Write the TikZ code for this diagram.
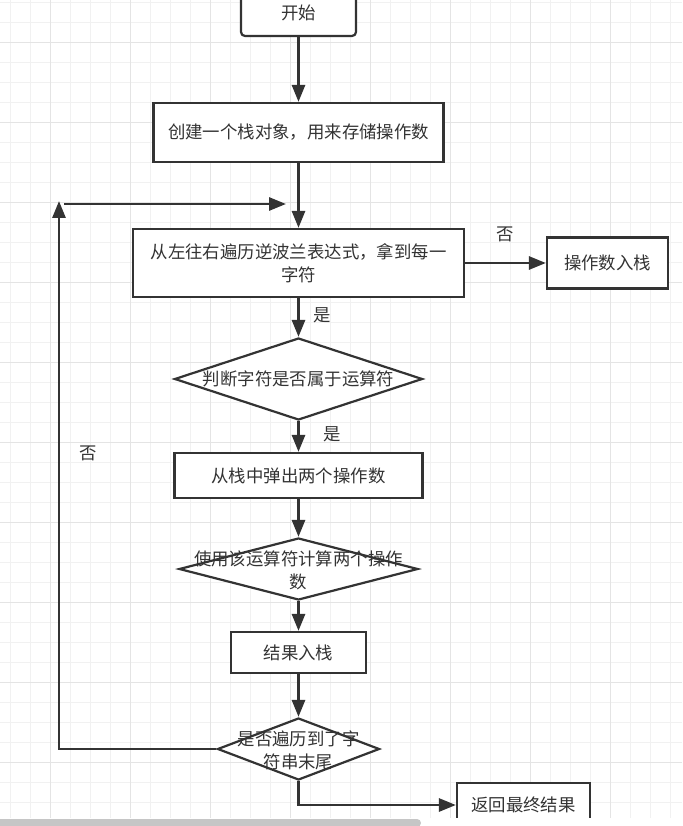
\documentclass[tikz,border=0pt]{standalone}
\usepackage{fontspec}
\setmainfont{Noto Sans CJK SC}
\usepackage{tikz}
\usetikzlibrary{arrows.meta, positioning, shapes.geometric}

\definecolor{inkgray}{HTML}{333333}
\definecolor{gridminor}{HTML}{F1F1F1}
\definecolor{gridmajor}{HTML}{E4E4E4}
\definecolor{scrollgray}{HTML}{C6C6C6}

\begin{document}
\begin{tikzpicture}[x=1pt,y=-1pt,node distance=100pt,on grid,>={Triangle[length=17pt,width=13pt]},
        every node/.style={font=\fontsize{17.4}{23}\selectfont,text=inkgray},
        flowbox/.style={draw=inkgray,line width=2.2pt,fill=white,align=center,inner sep=0pt},
        startbox/.style={flowbox,rounded corners=4pt},
        decision/.style={diamond,draw=inkgray,line width=2.2pt,fill=white,inner sep=0pt},
        flow/.style={draw=inkgray,line width=2.8pt},
        tag/.style={inner sep=0pt}]

        \useasboundingbox (0,0) rectangle (682,826);
        \fill[white] (0,0) rectangle (682,826);

        % canvas grid
        \foreach \k in {0,...,33}
            \draw[gridminor,line width=1pt] ({10.7+20*\k},0) -- ({10.7+20*\k},826);
        \foreach \k in {0,...,41}
            \draw[gridminor,line width=1pt] (0,{2.7+20*\k}) -- (682,{2.7+20*\k});
        \foreach \k in {0,...,7}
            \draw[gridmajor,line width=1pt] ({50.7+80*\k},0) -- ({50.7+80*\k},826);
        \foreach \k in {0,...,9}
            \draw[gridmajor,line width=1pt] (0,{42.7+80*\k}) -- (682,{42.7+80*\k});

        \node[startbox,minimum width=115pt,minimum height=46pt] (start) at (298.5,13) {开始};
        \node[flowbox,minimum width=290pt,minimum height=59pt] (create) [below=119.5pt of start] {创建一个栈对象，用来存储操作数};
        \node[flowbox,minimum width=331pt,minimum height=68pt] (scan) [below=130.5pt of create] {从左往右遍历逆波兰表达式，拿到每一\\字符};
        \node[flowbox,minimum width=121pt,minimum height=51pt] (pushop) [right=309pt of scan] {操作数入栈};
        \node[decision,minimum width=248pt,minimum height=82pt,label=center:判断字符是否属于运算符] (isop) [below=116pt of scan] {};
        \node[flowbox,minimum width=248pt,minimum height=45pt] (pop) [below=96.5pt of isop] {从栈中弹出两个操作数};
        \node[decision,minimum width=239pt,minimum height=62pt,label={[align=center,yshift=-1pt]center:使用该运算符计算两个操作\\数}] (calc) [below=93.5pt of pop] {};
        \node[flowbox,minimum width=135pt,minimum height=41pt] (pushres) [below=83.5pt of calc] {结果入栈};
        \node[decision,minimum width=162pt,minimum height=62pt,label={[align=center,yshift=-1pt]center:是否遍历到了字\\符串末尾}] (isend) [below=96.5pt of pushres] {};
        \node[flowbox,minimum width=133pt,minimum height=44pt] (ret) [below right=56pt and 225pt of isend] {返回最终结果};

        \coordinate (loopup) at (59,201);
        \coordinate (loopin) at (64,204);
        \coordinate (loopend) at (286,204);

        \draw[flow,->] (start) -- (create);
        \draw[flow,->] (create) -- (scan);
        \draw[flow,->] (scan) -- node[tag,above=20pt] {否} (pushop);
        \draw[flow,->] (scan) -- node[tag,pos=0.44,right=13.5pt] {是} (isop);
        \draw[flow,->] (isop) -- node[tag,pos=0.42,right=23.5pt] {是} (pop);
        \draw[flow,->] (pop) -- (calc);
        \draw[flow,->] (calc) -- (pushres);
        \draw[flow,->] (pushres) -- (isend);
        \draw[flow,->] (isend.west) -| node[tag,pos=0.77,right=19pt] {否} (loopup);
        \draw[flow,->] (loopin) -- (loopend);
        \draw[flow,->] (isend.south) |- (ret.west);

        % bottom edge of the canvas
        \fill[white] (0,818) rectangle (682,826);
        \fill[scrollgray,rounded corners=4pt] (-6,819) rectangle (421,827);
    \end{tikzpicture}
\end{document}
